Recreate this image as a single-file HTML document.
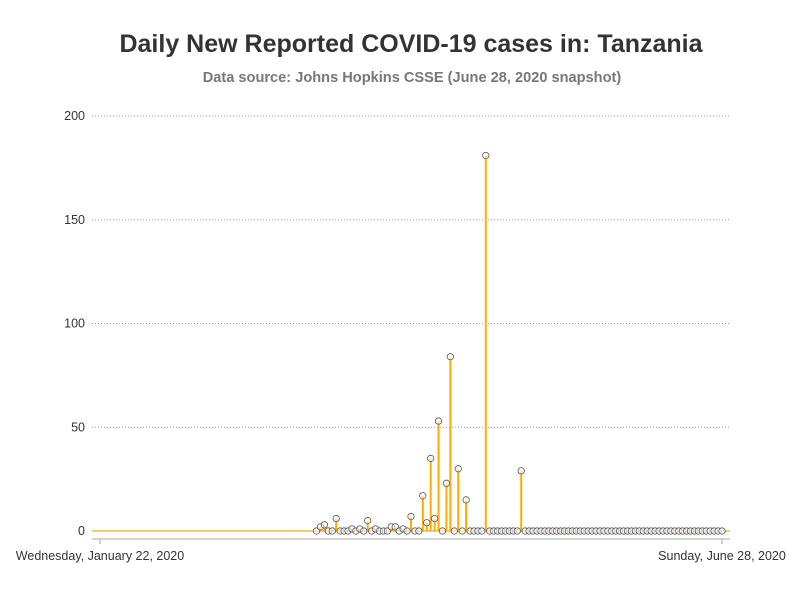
<!DOCTYPE html>
<html><head><meta charset="utf-8"><style>
body{margin:0;background:#fff;font-family:"Liberation Sans",sans-serif}
svg{display:block}
</style></head><body>
<svg id="chart" width="800" height="600">
<text x="411" y="52" text-anchor="middle" font-size="25" font-weight="bold" fill="#333">Daily New Reported COVID-19 cases in: Tanzania</text>
<text x="412" y="82" text-anchor="middle" font-size="14.6" font-weight="bold" fill="#777">Data source: Johns Hopkins CSSE (June 28, 2020 snapshot)</text>
<g id="grid"></g><g id="marks"></g>
<line x1="92" y1="539" x2="730" y2="539" stroke="#aaa" stroke-width="1"/>
<line x1="100" y1="539" x2="100" y2="544" stroke="#aaa"/>
<line x1="722" y1="539" x2="722" y2="544" stroke="#aaa"/>
<text x="100" y="560" text-anchor="middle" font-size="12.5" fill="#333">Wednesday, January 22, 2020</text>
<text x="722" y="560" text-anchor="middle" font-size="12.5" fill="#333">Sunday, June 28, 2020</text>
</svg>
<script>
const startDay = 55;
const values = [0,2,3,0,0,6,0,0,0,1,0,1,0,5,0,1,0,0,0,2,2,0,1,0,7,0,0,17,4,35,6,53,0,23,84,0,30,0,15,0,0,0,0,181,0,0,0,0,0,0,0,0,29,
0,0,0,0,0,0,0,0,0,0,0,0,0,0,0,0,0,0,0,0,0,0,0,0,0,0,0,0,0,0,0,0,0,0,0,0,0,0,0,0,0,0,0,0,0,0,0,0,0,0,0];
const yTicks = [0,50,100,150,200];
const totalDays = 158;
const NS="http://www.w3.org/2000/svg";
const xS = d => 100 + d*(622/totalDays);
const yS = v => 531 - v*(415/200);
const grid=document.getElementById('grid'), marks=document.getElementById('marks');
yTicks.forEach(t=>{
  if(t>0){const l=document.createElementNS(NS,'line');
  l.setAttribute('x1',92);l.setAttribute('x2',730);l.setAttribute('y1',yS(t));l.setAttribute('y2',yS(t));
  l.setAttribute('stroke','#999');l.setAttribute('stroke-dasharray','1,2');
  
  
  grid.appendChild(l);}
  const tx=document.createElementNS(NS,'text');
  tx.setAttribute('x',85);tx.setAttribute('y',yS(t)+4);tx.setAttribute('text-anchor','end');
  tx.setAttribute('font-size','12.5');tx.setAttribute('fill','#333');tx.textContent=t;
  
  
  grid.appendChild(tx);
});
const base=document.createElementNS(NS,'line');
base.setAttribute('x1',92);base.setAttribute('x2',730);base.setAttribute('y1',yS(0));base.setAttribute('y2',yS(0));
base.setAttribute('stroke','#f5a623');base.setAttribute('stroke-width','1.2');


marks.appendChild(base);
values.forEach((v,i)=>{
  const x=xS(startDay+i);
  if(v>0){const l=document.createElementNS(NS,'line');
  l.setAttribute('x1',x);l.setAttribute('x2',x);l.setAttribute('y1',yS(0));l.setAttribute('y2',yS(v));
  l.setAttribute('stroke','#ffab00');l.setAttribute('stroke-width','2');
  
  
  marks.appendChild(l);}
});
values.forEach((v,i)=>{
  const c=document.createElementNS(NS,'circle');
  c.setAttribute('cx',xS(startDay+i));c.setAttribute('cy',yS(v));c.setAttribute('r',3.2);
  c.setAttribute('fill','#fff');c.setAttribute('fill-opacity','0.6');c.setAttribute('stroke','#555');c.setAttribute('stroke-width','0.8');
  
  
  marks.appendChild(c);
});
</script>
</body></html>
